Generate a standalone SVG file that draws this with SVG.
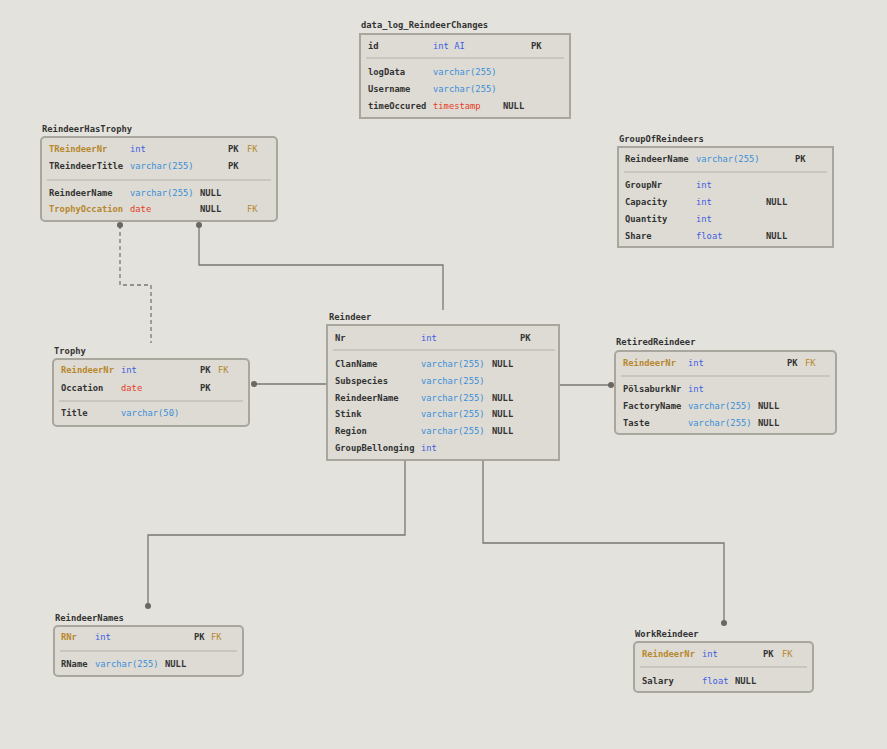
<svg xmlns="http://www.w3.org/2000/svg" width="887" height="749" viewBox="0 0 887 749">
<style>
text{font-family:"DejaVu Sans Mono","Liberation Mono",monospace;font-size:8.8px;}
.title{fill:#333;font-weight:bold;}
.tb{fill:#dddbd4;stroke:#a9a79d;stroke-width:2;}
.sep{stroke:#b3b1a8;stroke-width:1.2;}
.n{fill:#333;font-weight:bold;}
.n.fk{fill:#b8882e;}
.fk{fill:#b8882e;}
.i{fill:#3f5de2;}
.v{fill:#3b8ed8;}
.d{fill:#e63c26;}
.k{fill:#333;font-weight:bold;}
.c{fill:none;stroke:#7a786f;stroke-width:1.3;}
.dash{stroke-dasharray:4 3;}
.dot{fill:#6b6862;}
</style>
<rect width="887" height="749" fill="#e3e2dd"/>
<g id="connectors">
<path class="c" d="M199,225 V265 H443 V310"/>
<path class="c dash" d="M120,225 V285 H151 V343"/>
<path class="c" d="M254,384 H328"/>
<path class="c" d="M560,385 H611"/>
<path class="c" d="M405,461 V535 H148 V606"/>
<path class="c" d="M483,461 V543 H724 V623"/>
<circle class="dot" cx="199" cy="225" r="3"/>
<circle class="dot" cx="120" cy="225" r="3"/>
<circle class="dot" cx="254" cy="384" r="3"/>
<circle class="dot" cx="611" cy="385" r="3"/>
<circle class="dot" cx="148" cy="606" r="3"/>
<circle class="dot" cx="724" cy="623" r="3"/>
</g>
<g id="data_log_ReindeerChanges">
<text class="title" x="361" y="28">data_log_ReindeerChanges</text>
<rect class="tb" x="360" y="34" width="210" height="84"/>
<line class="sep" x1="366" y1="58" x2="564" y2="58"/>
<text class="n" x="368" y="49">id</text><text class="i" x="433" y="49">int AI</text><text class="k" x="531" y="49">PK</text>
<text class="n" x="368" y="75">logData</text><text class="v" x="433" y="75">varchar(255)</text>
<text class="n" x="368" y="92">Username</text><text class="v" x="433" y="92">varchar(255)</text>
<text class="n" x="368" y="109">timeOccured</text><text class="d" x="433" y="109">timestamp</text><text class="k" x="503" y="109">NULL</text>
</g>
<g id="ReindeerHasTrophy">
<text class="title" x="42" y="132">ReindeerHasTrophy</text>
<rect class="tb" x="41" y="137" width="236" height="84" rx="4"/>
<line class="sep" x1="47" y1="180" x2="271" y2="180"/>
<text class="n fk" x="49" y="152">TReindeerNr</text><text class="i" x="130" y="152">int</text><text class="k" x="228" y="152">PK</text><text class="fk" x="247" y="152">FK</text>
<text class="n" x="49" y="169">TReindeerTitle</text><text class="v" x="130" y="169">varchar(255)</text><text class="k" x="228" y="169">PK</text>
<text class="n" x="49" y="196">ReindeerName</text><text class="v" x="130" y="196">varchar(255)</text><text class="k" x="200" y="196">NULL</text>
<text class="n fk" x="49" y="212">TrophyOccation</text><text class="d" x="130" y="212">date</text><text class="k" x="200" y="212">NULL</text><text class="fk" x="247" y="212">FK</text>
</g>
<g id="GroupOfReindeers">
<text class="title" x="619" y="142">GroupOfReindeers</text>
<rect class="tb" x="618" y="147" width="215" height="100"/>
<line class="sep" x1="624" y1="172" x2="827" y2="172"/>
<text class="n" x="625" y="162">ReindeerName</text><text class="v" x="696" y="162">varchar(255)</text><text class="k" x="795" y="162">PK</text>
<text class="n" x="625" y="188">GroupNr</text><text class="i" x="696" y="188">int</text>
<text class="n" x="625" y="205">Capacity</text><text class="i" x="696" y="205">int</text><text class="k" x="766" y="205">NULL</text>
<text class="n" x="625" y="222">Quantity</text><text class="i" x="696" y="222">int</text>
<text class="n" x="625" y="239">Share</text><text class="i" x="696" y="239">float</text><text class="k" x="766" y="239">NULL</text>
</g>
<g id="Reindeer">
<text class="title" x="329" y="320">Reindeer</text>
<rect class="tb" x="327" y="325" width="232" height="135"/>
<line class="sep" x1="333" y1="350" x2="555" y2="350"/>
<text class="n" x="335" y="341">Nr</text><text class="i" x="421" y="341">int</text><text class="k" x="520" y="341">PK</text>
<text class="n" x="335" y="367">ClanName</text><text class="v" x="421" y="367">varchar(255)</text><text class="k" x="492" y="367">NULL</text>
<text class="n" x="335" y="384">Subspecies</text><text class="v" x="421" y="384">varchar(255)</text>
<text class="n" x="335" y="401">ReindeerName</text><text class="v" x="421" y="401">varchar(255)</text><text class="k" x="492" y="401">NULL</text>
<text class="n" x="335" y="417">Stink</text><text class="v" x="421" y="417">varchar(255)</text><text class="k" x="492" y="417">NULL</text>
<text class="n" x="335" y="434">Region</text><text class="v" x="421" y="434">varchar(255)</text><text class="k" x="492" y="434">NULL</text>
<text class="n" x="335" y="451">GroupBellonging</text><text class="i" x="421" y="451">int</text>
</g>
<g id="Trophy">
<text class="title" x="54" y="354">Trophy</text>
<rect class="tb" x="53" y="359" width="196" height="67" rx="4"/>
<line class="sep" x1="59" y1="401" x2="243" y2="401"/>
<text class="n fk" x="61" y="373">ReindeerNr</text><text class="i" x="121" y="373">int</text><text class="k" x="200" y="373">PK</text><text class="fk" x="218" y="373">FK</text>
<text class="n" x="61" y="391">Occation</text><text class="d" x="121" y="391">date</text><text class="k" x="200" y="391">PK</text>
<text class="n" x="61" y="416">Title</text><text class="v" x="121" y="416">varchar(50)</text>
</g>
<g id="RetiredReindeer">
<text class="title" x="616" y="345">RetiredReindeer</text>
<rect class="tb" x="615" y="351" width="221" height="83" rx="4"/>
<line class="sep" x1="621" y1="376" x2="830" y2="376"/>
<text class="n fk" x="623" y="366">ReindeerNr</text><text class="i" x="688" y="366">int</text><text class="k" x="787" y="366">PK</text><text class="fk" x="805" y="366">FK</text>
<text class="n" x="623" y="392">PölsaburkNr</text><text class="i" x="688" y="392">int</text>
<text class="n" x="623" y="409">FactoryName</text><text class="v" x="688" y="409">varchar(255)</text><text class="k" x="758" y="409">NULL</text>
<text class="n" x="623" y="426">Taste</text><text class="v" x="688" y="426">varchar(255)</text><text class="k" x="758" y="426">NULL</text>
</g>
<g id="ReindeerNames">
<text class="title" x="55" y="621">ReindeerNames</text>
<rect class="tb" x="54" y="626" width="189" height="50" rx="4"/>
<line class="sep" x1="60" y1="651" x2="237" y2="651"/>
<text class="n fk" x="61" y="640">RNr</text><text class="i" x="95" y="640">int</text><text class="k" x="194" y="640">PK</text><text class="fk" x="211" y="640">FK</text>
<text class="n" x="61" y="667">RName</text><text class="v" x="95" y="667">varchar(255)</text><text class="k" x="165" y="667">NULL</text>
</g>
<g id="WorkReindeer">
<text class="title" x="635" y="637">WorkReindeer</text>
<rect class="tb" x="634" y="642" width="179" height="50" rx="4"/>
<line class="sep" x1="640" y1="667" x2="807" y2="667"/>
<text class="n fk" x="642" y="657">ReindeerNr</text><text class="i" x="702" y="657">int</text><text class="k" x="763" y="657">PK</text><text class="fk" x="782" y="657">FK</text>
<text class="n" x="642" y="684">Salary</text><text class="i" x="702" y="684">float</text><text class="k" x="735" y="684">NULL</text>
</g>
</svg>
